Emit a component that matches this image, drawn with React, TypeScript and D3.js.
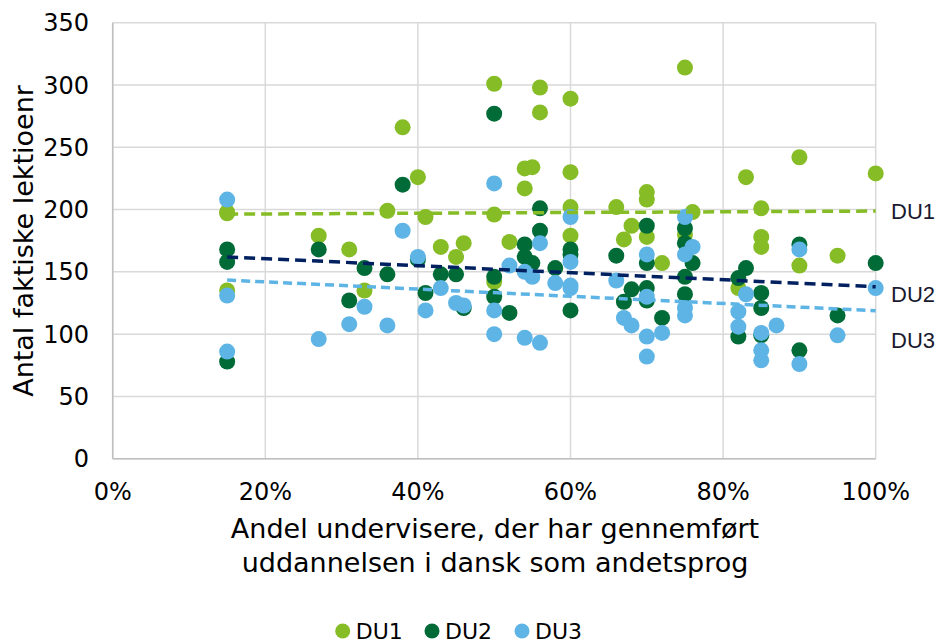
import React from "react";
import * as d3 from "d3";

// ---- data ----
const seriesNames = ["DU1", "DU2", "DU3"];
const xTicks = [0, 20, 40, 60, 80, 100];
const yTicks = [0, 50, 100, 150, 200, 250, 300, 350];

// [andel %, lektioner]
const du1: [number, number][] = [
  [15, 198], [15, 197], [15, 135], [27, 179], [31, 168], [33, 135], [36, 199], [38, 266],
  [40, 226], [41, 194], [43, 170], [45, 162], [46, 173], [50, 301], [50, 196], [50, 142],
  [52, 174], [54, 233], [54, 217], [55, 234], [56, 298], [56, 278], [60, 289], [60, 230],
  [60, 202], [60, 179], [66, 202], [67, 176], [68, 187], [70, 214], [70, 208], [70, 178],
  [72, 157], [75, 314], [75, 180], [76, 198], [82, 137], [83, 226], [85, 201], [85, 178],
  [85, 170], [90, 242], [90, 155], [95, 163], [100, 229],
];
const du2: [number, number][] = [
  [15, 168], [15, 158], [15, 78], [27, 168], [31, 127], [33, 153], [36, 148], [38, 220],
  [40, 160], [41, 133], [43, 148], [45, 148], [46, 121], [50, 277], [50, 146], [50, 130],
  [52, 117], [54, 172], [54, 162], [55, 157], [56, 201], [56, 183], [58, 153], [60, 168],
  [60, 164], [60, 119], [66, 163], [67, 126], [68, 136], [70, 187], [70, 157], [70, 137],
  [70, 127], [72, 113], [75, 185], [75, 173], [75, 146], [75, 132], [76, 157], [82, 145],
  [82, 98], [83, 153], [85, 133], [85, 121], [85, 99], [90, 172], [90, 87], [95, 115],
  [100, 157],
];
const du3: [number, number][] = [
  [15, 208], [15, 131], [15, 86], [27, 96], [31, 108], [33, 122], [36, 107], [38, 183],
  [40, 162], [41, 119], [43, 137], [45, 125], [46, 123], [50, 221], [50, 119], [50, 100],
  [52, 155], [54, 150], [54, 97], [55, 146], [56, 173], [56, 93], [58, 141], [60, 194],
  [60, 158], [60, 139], [60, 137], [66, 143], [67, 113], [68, 107], [70, 164], [70, 130],
  [70, 98], [70, 82], [72, 101], [75, 194], [75, 164], [75, 121], [75, 115], [76, 170],
  [82, 118], [82, 106], [83, 132], [85, 101], [85, 87], [85, 79], [87, 107], [90, 168],
  [90, 76], [95, 99], [100, 137],
];
// linear trend lines: [x, y] at start and end
const trend1: [number, number][] = [[15, 196.3], [100, 198.8]];
const trend2: [number, number][] = [[15, 162], [100, 138]];
const trend3: [number, number][] = [[15, 143.4], [100, 118.8]];

const colors = ["#86bc25", "#006b37", "#5db4e5"];
const trendColors = ["#86bc25", "#002060", "#5db4e5"];

export default function App() {
  const W = 948, H = 642;
  const left = 112.7, right = 875.7, top = 22.7, bottom = 458.7;
  const x = d3.scaleLinear().domain([0, 100]).range([left, right]);
  const y = d3.scaleLinear().domain([0, 350]).range([bottom, top]);
  const line = d3.line<[number, number]>().x(d => x(d[0])).y(d => y(d[1]));
  const font = "'DejaVu Sans', Verdana, sans-serif";
  const series = [du1, du2, du3];
  const trends = [trend1, trend2, trend3];
  const trendLabelY = [211, 294, 340];
  const legendX = [342.7, 432, 522];

  return (
    <svg width={W} height={H} style={{ position: "absolute", left: 0, top: 0, background: "#fff" }}>
      <rect x={0} y={0} width={W} height={H} fill="#fff" />
      {/* grid */}
      {yTicks.map(t => (
        <line key={"gy" + t} x1={left} x2={right} y1={y(t)} y2={y(t)} stroke="#d9d9d9" strokeWidth={1.5} />
      ))}
      {xTicks.map(t => (
        <line key={"gx" + t} x1={x(t)} x2={x(t)} y1={top} y2={bottom} stroke="#d9d9d9" strokeWidth={1.5} />
      ))}
      {/* axes */}
      <line x1={left} x2={left} y1={top} y2={bottom} stroke="#bfbfbf" strokeWidth={1.5} />
      <line x1={left} x2={right} y1={bottom} y2={bottom} stroke="#bfbfbf" strokeWidth={1.5} />
      {/* tick labels */}
      {yTicks.map(t => (
        <text key={"ty" + t} x={89} y={y(t)} dy="0.36em" textAnchor="end" fontFamily={font} fontSize={24} fill="#000">{t}</text>
      ))}
      {xTicks.map(t => (
        <text key={"tx" + t} x={x(t)} y={500} textAnchor="middle" fontFamily={font} fontSize={24} fill="#000">{t + "%"}</text>
      ))}
      {/* axis titles */}
      <text x={495} y={538} textAnchor="middle" fontFamily={font} fontSize={27} fill="#000">Andel undervisere, der har gennemført</text>
      <text x={495} y={572} textAnchor="middle" fontFamily={font} fontSize={27} fill="#000">uddannelsen i dansk som andetsprog</text>
      <text transform="translate(33,241) rotate(-90)" textAnchor="middle" fontFamily={font} fontSize={27} fill="#000">Antal faktiske lektioenr</text>
      {/* points */}
      {series.map((s, i) => (
        <g key={"s" + i}>
          {s.map((d, j) => (
            <circle key={j} cx={x(d[0])} cy={y(d[1])} r={8} fill={colors[i]} />
          ))}
        </g>
      ))}
      {/* trend lines */}
      {trends.map((t, i) => (
        <path key={"t" + i} d={line(t) || ""} fill="none" stroke={trendColors[i]} strokeWidth={3.5}
          strokeDasharray={i === 2 ? "9,5" : "11,6"} />
      ))}
      {trends.map((t, i) => (
        <text key={"tl" + i} x={891} y={trendLabelY[i]} dy="0.36em" fontFamily="'Liberation Sans', Arial, sans-serif" fontSize={22} fill="#1a1a2e">{seriesNames[i]}</text>
      ))}
      {/* legend */}
      {seriesNames.map((n, i) => (
        <g key={"l" + i}>
          <circle cx={legendX[i]} cy={631} r={7.5} fill={colors[i]} />
          <text x={legendX[i] + 13} y={638.5} fontFamily={font} fontSize={22} fill="#000">{n}</text>
        </g>
      ))}
    </svg>
  );
}
